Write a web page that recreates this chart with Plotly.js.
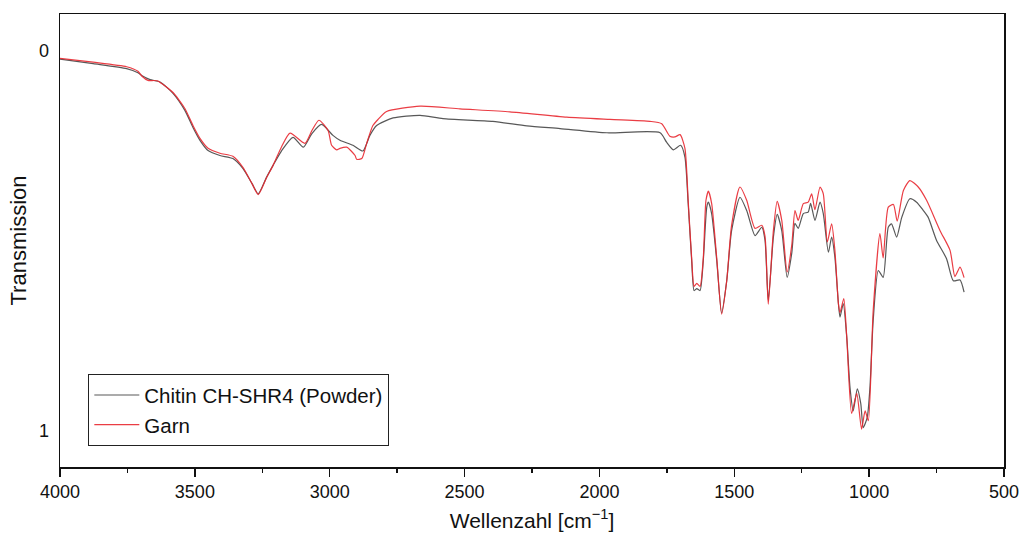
<!DOCTYPE html>
<html>
<head>
<meta charset="utf-8">
<script src="https://cdn.plot.ly/plotly-3.0.1.min.js"></script>
<style>html,body{margin:0;padding:0;background:#fff;}#chart{width:1023px;height:536px;}</style>
</head>
<body>
<div id="chart"></div>
<script>
// Wavenumber [cm^-1] and transmission (0 top, 1 bottom)
const chitinWn = [4000,3877,3753,3711,3697,3666,3629,3581,3537,3507,3481,3451,3407,3359,3322,3288,3265,3234,3210,3178,3136,3098,3066,3030,2988,2962,2914,2877,2851,2826,2765,2665,2580,2395,2269,2146,1972,1775,1751,1726,1699,1683,1671,1658,1649,1639,1627,1615,1602,1596,1584,1565,1547,1528,1510,1479,1454,1423,1398,1386,1374,1355,1341,1324,1304,1287,1275,1263,1244,1226,1217,1201,1182,1170,1151,1139,1127,1114,1108,1096,1083,1071,1059,1044,1031,1022,1007,997,985,966,948,929,917,898,879,849,824,799,781,750,713,688,663,648];
const chitinT  = [0.022,0.034,0.047,0.058,0.065,0.076,0.082,0.112,0.157,0.202,0.236,0.263,0.276,0.284,0.310,0.350,0.377,0.333,0.302,0.263,0.228,0.254,0.218,0.194,0.223,0.236,0.249,0.264,0.223,0.197,0.177,0.170,0.179,0.186,0.198,0.205,0.216,0.216,0.241,0.261,0.249,0.280,0.402,0.553,0.632,0.627,0.632,0.553,0.412,0.399,0.429,0.553,0.691,0.606,0.474,0.386,0.421,0.487,0.465,0.500,0.658,0.491,0.431,0.474,0.597,0.534,0.455,0.468,0.429,0.425,0.402,0.447,0.399,0.429,0.531,0.491,0.544,0.666,0.702,0.666,0.755,0.887,0.949,0.891,0.930,0.993,0.966,0.887,0.711,0.579,0.597,0.465,0.456,0.491,0.439,0.390,0.399,0.421,0.439,0.500,0.548,0.606,0.604,0.636];

const garnWn = [4000,3877,3753,3711,3696,3674,3640,3581,3537,3507,3481,3451,3407,3359,3322,3288,3265,3234,3210,3178,3147,3092,3066,3040,3006,2993,2974,2962,2937,2906,2900,2881,2863,2840,2821,2789,2665,2517,2332,2121,1961,1813,1769,1739,1720,1701,1683,1671,1658,1649,1639,1627,1615,1605,1596,1584,1565,1547,1528,1510,1479,1454,1423,1398,1386,1374,1355,1341,1324,1304,1287,1275,1263,1244,1226,1213,1201,1182,1170,1155,1139,1127,1114,1108,1094,1083,1065,1046,1028,1015,1003,985,960,948,929,910,896,873,849,818,787,737,700,682,663,648];
const garnT  = [0.020,0.030,0.042,0.054,0.067,0.078,0.079,0.110,0.152,0.197,0.231,0.257,0.270,0.278,0.307,0.350,0.379,0.334,0.302,0.252,0.217,0.244,0.210,0.183,0.210,0.249,0.261,0.257,0.254,0.276,0.286,0.284,0.244,0.197,0.181,0.160,0.146,0.153,0.161,0.175,0.181,0.186,0.192,0.225,0.227,0.221,0.257,0.394,0.547,0.621,0.613,0.621,0.547,0.394,0.370,0.402,0.547,0.694,0.606,0.460,0.359,0.394,0.468,0.460,0.489,0.668,0.474,0.397,0.447,0.583,0.513,0.421,0.447,0.403,0.399,0.377,0.419,0.359,0.377,0.504,0.456,0.526,0.666,0.690,0.653,0.755,0.956,0.903,0.997,0.949,0.975,0.685,0.482,0.546,0.412,0.405,0.449,0.368,0.342,0.359,0.394,0.474,0.526,0.595,0.570,0.598];

const seriesNames = ['Chitin CH-SHR4 (Powder)', 'Garn'];
const xTickVals = [4000,3500,3000,2500,2000,1500,1000,500];
const yTickVals = [0,1];

const FONT = 'Liberation Sans, Arial, sans-serif';

const traces = [
  {x: chitinWn, y: chitinT, name: seriesNames[0], type: 'scatter', mode: 'lines',
   line: {color: 'rgba(70,70,70,0.9)', width: 1.2, shape: 'spline', smoothing: 0.6}},
  {x: garnWn, y: garnT, name: seriesNames[1], type: 'scatter', mode: 'lines',
   line: {color: 'rgba(232,40,48,0.9)', width: 1.2, shape: 'spline', smoothing: 0.6}}
];

const layout = {
  width: 1023, height: 536,
  margin: {l: 60, r: 19, t: 14, b: 69},
  paper_bgcolor: '#fff', plot_bgcolor: '#fff',
  font: {family: FONT, color: '#111'},
  showlegend: true,
  legend: {x: 0.03, y: 0.046, xanchor: 'left', yanchor: 'bottom',
           bgcolor: '#fff', bordercolor: '#222', borderwidth: 1,
           font: {family: FONT, size: 20.5, color: '#111'},
           tracegroupgap: 0, itemwidth: 45},
  xaxis: {
    range: [4000, 500], autorange: false,
    tickvals: xTickVals, ticktext: xTickVals.map(String),
    ticks: 'outside', ticklen: 8, tickwidth: 1.5, tickcolor: '#111',
    minor: {dtick: 250, tick0: 0, ticks: 'outside', ticklen: 4, tickwidth: 1.5, tickcolor: '#111'},
    showline: true, linecolor: '#111', linewidth: 1.5, mirror: true,
    showgrid: false, zeroline: false,
    tickfont: {family: FONT, size: 18, color: '#111'},
    title: {text: 'Wellenzahl [cm<sup>−1</sup>]', font: {family: FONT, size: 21, color: '#111'}, standoff: 12}
  },
  yaxis: {
    range: [1.097, -0.097], autorange: false,
    tickvals: yTickVals, ticktext: yTickVals.map(String),
    ticks: '', ticklabelstandoff: 6,
    showline: true, linecolor: '#111', linewidth: 1.5, mirror: true,
    showgrid: false, zeroline: false,
    tickfont: {family: FONT, size: 18, color: '#111'},
    title: {text: 'Transmission', font: {family: FONT, size: 22, color: '#111'}, standoff: 6}
  }
};

Plotly.newPlot('chart', traces, layout, {displayModeBar: false, staticPlot: true});
</script>
</body>
</html>
